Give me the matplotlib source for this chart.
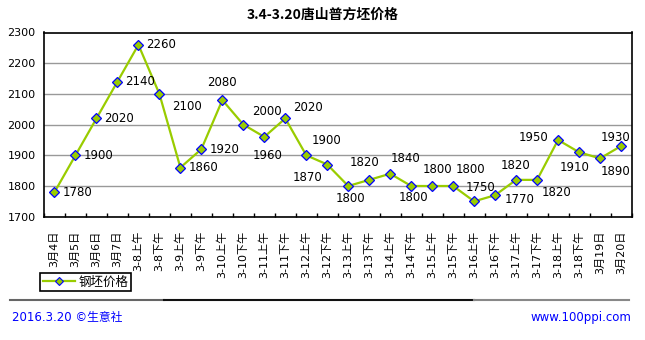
import numpy as np
import matplotlib
matplotlib.use("Agg")
import matplotlib.pyplot as plt
from matplotlib.lines import Line2D

plt.rcParams["font.family"] = ["DejaVu Sans", "Noto Sans CJK SC"]

# ---------------- 数据 ----------------
categories = ["3月4日", "3月5日", "3月6日", "3月7日", "3-8上午", "3-8下午", "3-9上午",
              "3-9下午", "3-10上午", "3-10下午", "3-11上午", "3-11下午", "3-12上午",
              "3-12下午", "3-13上午", "3-13下午", "3-14上午", "3-14下午", "3-15上午",
              "3-15下午", "3-16上午", "3-16下午", "3-17上午", "3-17下午", "3-18上午",
              "3-18下午", "3月19日", "3月20日"]
prices = [1780, 1900, 2020, 2140, 2260, 2100, 1860, 1920, 2080, 2000, 1960, 2020, 1900,
          1870, 1800, 1820, 1840, 1800, 1800, 1800, 1750, 1770, 1820, 1820, 1950, 1910,
          1890, 1930]
yticks = [1700, 1800, 1900, 2000, 2100, 2200, 2300]

# 数据标签偏移（像素）
label_dx = [23, 23, 23, 23, 23, 28, 23, 23, 0, 24, 3, 23, 20, -20, 2, -5, 15, 2, 5, 17,
            6, 24, -1, 19, -25, -4, 16, -5]
label_dy = [0, 0, 0, 0, 0, -13, 0, 0, 18, 13, -19, 11, 15, -13, -13, 17, 15, -12, 16, 16,
            14, -4, 14, -13, 2, -15, -13, 9]

title = "3.4-3.20唐山普方坯价格"
series_name = "钢坯价格"

# ---------------- 绘图 ----------------
fig = plt.figure(figsize=(6.45, 3.4), dpi=100)
ax = fig.add_axes([44 / 645, 1 - 216.7 / 340, (631.5 - 44) / 645, (216.7 - 32.5) / 340])

x = np.arange(len(prices))
line_color = "#99cc00"
ax.plot(x, prices, color=line_color, linewidth=1.6, marker="D", markersize=5,
        markerfacecolor=line_color, markeredgecolor="#0000ff", markeredgewidth=0.9,
        zorder=3)

for i, v in enumerate(prices):
    ax.annotate(str(v), (x[i], v), xytext=(label_dx[i], label_dy[i]),
                textcoords="offset pixels", ha="center", va="center",
                fontsize=8.5, color="black")

ax.set_xlim(-0.5, len(prices) - 0.5)
ax.set_ylim(1700, 2300)
ax.set_yticks(yticks)
ax.set_yticklabels([str(t) for t in yticks], fontsize=8)
ax.tick_params(axis="y", length=0, pad=6)
ax.yaxis.grid(True, color="#999999", linewidth=1)
ax.set_axisbelow(True)

# 分类边界刻度
ax.set_xticks(np.arange(len(prices) + 1) - 0.5)
ax.set_xticklabels([])
ax.tick_params(axis="x", which="major", direction="in", length=3, width=1)
ax.set_xticks(x, minor=True)
ax.set_xticklabels(categories, minor=True, rotation=90, fontsize=8)
ax.tick_params(axis="x", which="minor", length=0, pad=10)

for s in ax.spines.values():
    s.set_color("black")
    s.set_linewidth(1.2)

fig.text(0.5, 1 - 15 / 340, title, ha="center", va="center", fontsize=10,
         fontweight="bold", family=["Noto Sans CJK SC"])

# 图例
handle = Line2D([], [], color=line_color, linewidth=1.6, marker="D", markersize=4,
                markerfacecolor=line_color, markeredgecolor="#0000ff",
                markeredgewidth=0.8)
leg = fig.legend([handle], [series_name], loc="lower left",
                 bbox_to_anchor=(40 / 645, 1 - 291 / 340), fontsize=9,
                 frameon=True, fancybox=False, edgecolor="black", framealpha=1,
                 borderpad=0.2, handlelength=2.6, handletextpad=0.3,
                 borderaxespad=0)
leg.get_frame().set_linewidth(1.2)

# 分隔线
fig.add_artist(Line2D([10 / 645, 164 / 645], [1 - 300 / 340] * 2, color="#666666", linewidth=1.5))
fig.add_artist(Line2D([164 / 645, 474 / 645], [1 - 300 / 340] * 2, color="#111111", linewidth=1.5))
fig.add_artist(Line2D([474 / 645, 629 / 645], [1 - 300 / 340] * 2, color="#888888", linewidth=1.5))

fig.text(12 / 645, 1 - 318 / 340, "2016.3.20 ©生意社", color="#0000ff", fontsize=8.5,
         ha="left", va="center")
fig.text(631 / 645, 1 - 318 / 340, "www.100ppi.com", color="#0000ff", fontsize=8.5,
         ha="right", va="center")

fig.savefig("out.png", dpi=100)
